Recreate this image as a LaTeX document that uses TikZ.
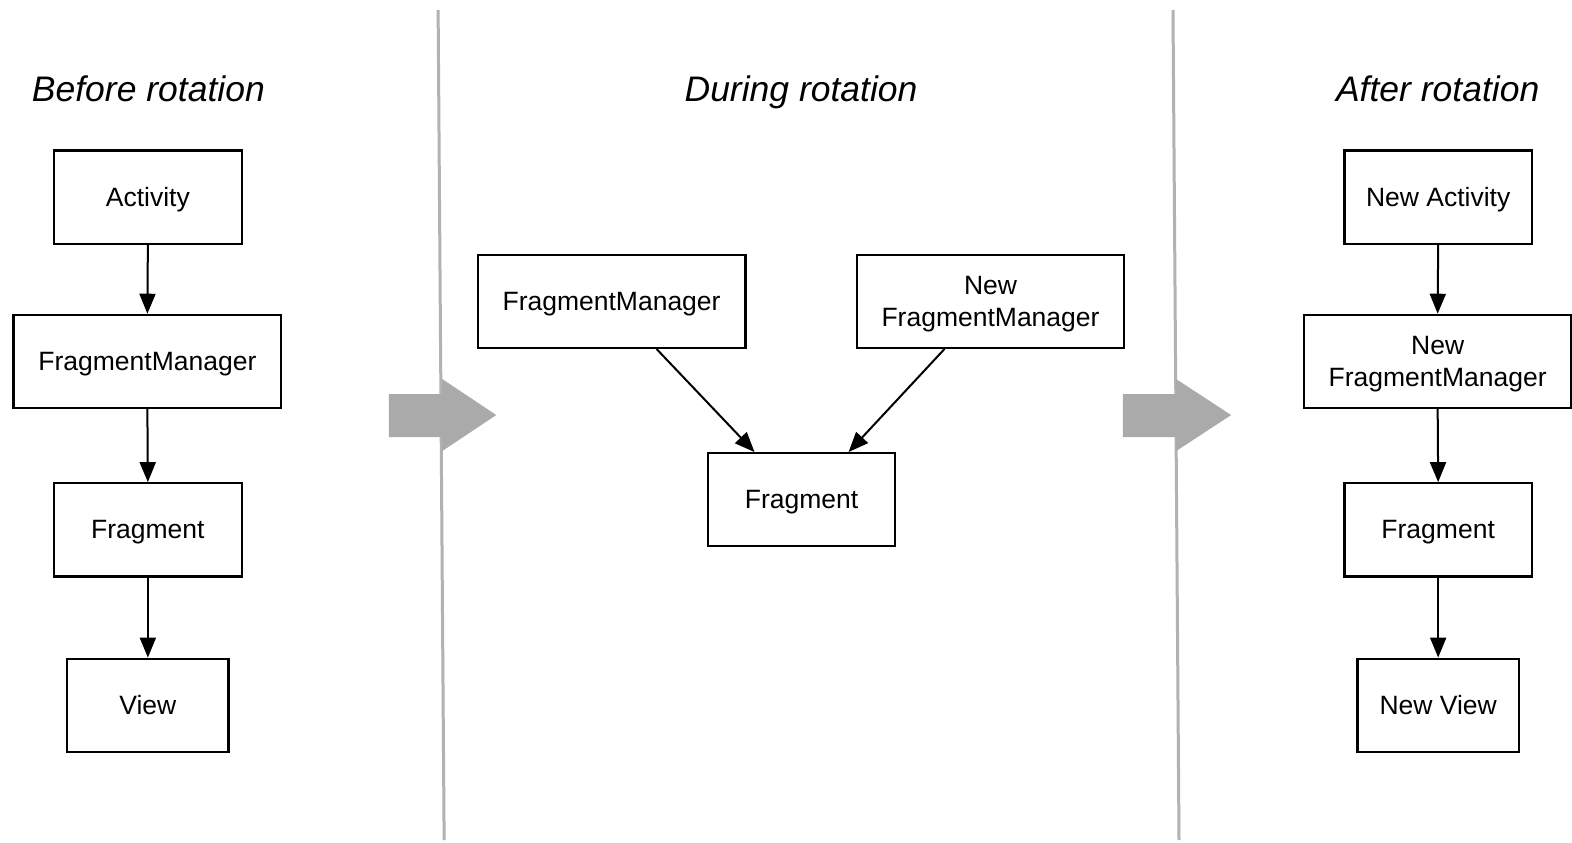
\documentclass[tikz,border=0pt]{standalone}
\usepackage{fontspec}
\setmainfont{Liberation Sans}
\usetikzlibrary{arrows.meta}
\definecolor{divgray}{RGB}{178,178,178}
\definecolor{bigarrow}{RGB}{170,170,170}
\tikzset{
  box/.style={draw=black, line width=2.2pt, fill=white, inner sep=0pt, align=center,
    font=\fontsize{26.5pt}{32pt}\selectfont, text depth=0pt},
  title/.style={font=\fontsize{35.5pt}{40pt}\selectfont\itshape, anchor=base},
  arr/.style={line width=2pt, -{Triangle[width=16pt,length=20pt]}},
  divider/.style={draw=divgray, line width=3pt},
  bigarr/.style={fill=bigarrow, draw=none}
}
\begin{document}
\begin{tikzpicture}[x=1.00255pt,y=-1.00255pt]
\useasboundingbox[fill=white] (0,0) rectangle (1568,840.85);
% dividers
\draw[divider] (437,10) -- (443,838);
\draw[divider] (1170,10) -- (1176,838);
% big arrows
\fill[bigarr] (388,393) -- (441,393) -- (441,378) -- (495,414) -- (441,450) -- (441,436) -- (388,436) -- cycle;
\fill[bigarr] (1120,393) -- (1173,393) -- (1173,378) -- (1228,414) -- (1173,450) -- (1173,436) -- (1120,436) -- cycle;
% titles
\node[title] (t1) at (148,101.5) {Before rotation};
\node[title] (t2) at (799,101.5) {During rotation};
\node[title] (t3) at (1434,101.5) {After rotation};
% left column
\node[box, minimum width=187.5pt, minimum height=93.2pt] (act1) at (147.5,196.5) {Activity};
\node[box, minimum width=267.7pt, minimum height=93.2pt] (fm1) at (147,360.5) {FragmentManager};
\node[box, minimum width=187.5pt, minimum height=93.2pt] (fr1) at (147.5,528.5) {Fragment};
\node[box, minimum width=161.4pt, minimum height=93.2pt] (v1) at (147.5,703.5) {View};
\draw[arr] (act1.south) -- (fm1.north);
\draw[arr] (fm1.south) -- (fr1.north);
\draw[arr] (fr1.south) -- (v1.north);
% middle
\node[box, minimum width=267.7pt, minimum height=93.2pt] (fm2) at (610,300.5) {FragmentManager};
\node[box, minimum width=267.7pt, minimum height=93.2pt] (nfm2) at (988,300.5) {New\\FragmentManager};
\node[box, minimum width=187.5pt, minimum height=93.2pt] (fr2) at (799.5,498.5) {Fragment};
\draw[arr] ([xshift=45pt]fm2.south) -- ([xshift=-47pt]fr2.north);
\draw[arr] ([xshift=-46pt]nfm2.south) -- ([xshift=47pt]fr2.north);
% right column
\node[box, minimum width=187.5pt, minimum height=93.2pt] (act3) at (1434.5,196.5) {New Activity};
\node[box, minimum width=267.7pt, minimum height=93.2pt] (fm3) at (1434,360.5) {New\\FragmentManager};
\node[box, minimum width=187.5pt, minimum height=93.2pt] (fr3) at (1434.5,528.5) {Fragment};
\node[box, minimum width=161.4pt, minimum height=93.2pt] (v3) at (1434.5,703.5) {New View};
\draw[arr] (act3.south) -- (fm3.north);
\draw[arr] (fm3.south) -- (fr3.north);
\draw[arr] (fr3.south) -- (v3.north);
\end{tikzpicture}
\end{document}
